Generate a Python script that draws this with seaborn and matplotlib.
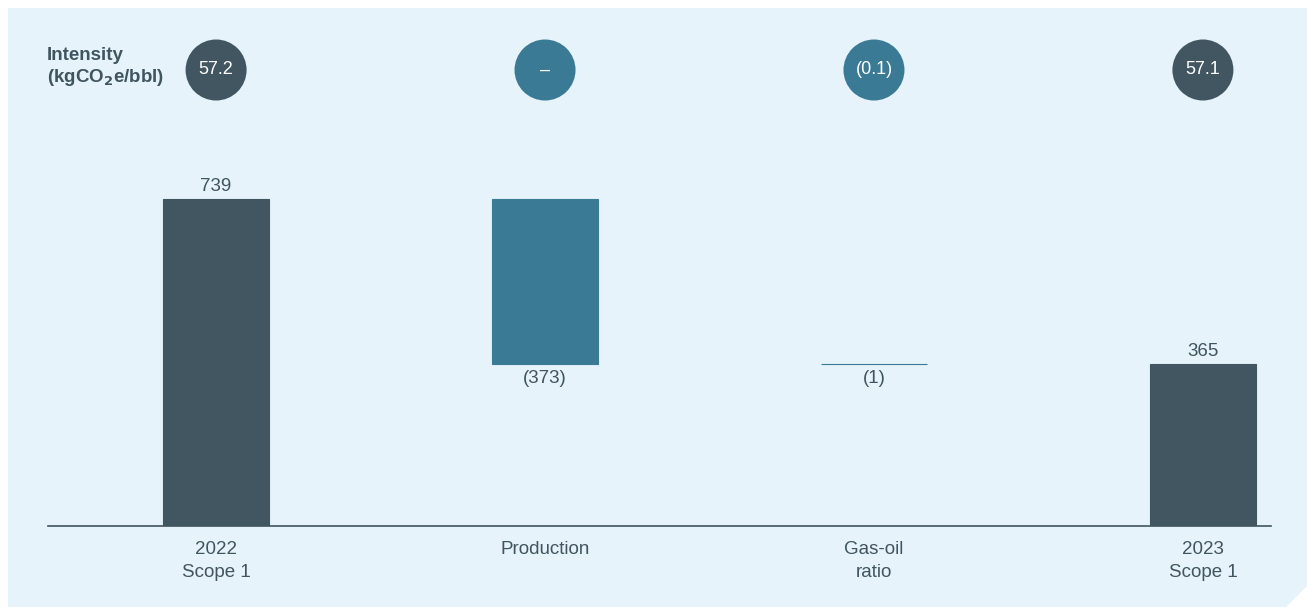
import seaborn as sns
import matplotlib.pyplot as plt
import numpy as np
import pandas as pd
from matplotlib.patches import Polygon
from matplotlib.transforms import blended_transform_factory

# Chart data
categories = ['2022\nScope 1', 'Production', 'Gas-oil\nratio', '2023\nScope 1']
start_value = 739
deltas = [-373, -1]
end_value = 365
value_labels = ['739', '(373)', '(1)', '365']
intensity_labels = ['57.2', '–', '(0.1)', '57.1']

# Colours
bg = '#e6f3fb'
dark = '#425662'
teal = '#3b7a95'
text_col = '#41555f'

# Build waterfall table
tops, bottoms = [start_value], [0]
level = start_value
for d in deltas:
    new = level + d
    bottoms.append(min(level, new))
    tops.append(max(level, new))
    level = new
tops.append(end_value)
bottoms.append(0)
df = pd.DataFrame({'category': categories, 'bottom': bottoms, 'top': tops,
                   'label': value_labels, 'intensity': intensity_labels})
df['height'] = df['top'] - df['bottom']
df['kind'] = ['total', 'delta', 'delta', 'total']

sns.set_theme(style='white')
plt.rcParams['font.family'] = ['Liberation Sans', 'DejaVu Sans']

W, H = 1307, 607
fig = plt.figure(figsize=(W / 100, H / 100), dpi=100)
fig.patch.set_facecolor('white')

# light blue panel with cut corner
panel = Polygon([(8 / W, 1 - 8 / H), (1, 1 - 8 / H), (1, 1 - 586 / H),
                 (1286 / W, 0), (8 / W, 0)], closed=True,
                transform=fig.transFigure, facecolor=bg, edgecolor='none', zorder=-10)
fig.patches.append(panel)

ax = fig.add_axes([48 / W, 1 - 526 / H, (1271 - 48) / W, (526 - 90) / H])
ax.set_facecolor('none')

x = np.arange(len(df))
colors = [dark if k == 'total' else teal for k in df['kind']]
ax.bar(x, df['height'], bottom=df['bottom'], width=0.322, color=colors,
       edgecolor=colors, linewidth=0.8, zorder=2)

ax.set_xlim(-0.511, 3.207)
ax.set_ylim(0, 739 * (526 - 90) / 327)

fs = 13.5
# value labels
for i, row in df.iterrows():
    if row['kind'] == 'total':
        ax.annotate(row['label'], (i, row['top']), xytext=(0, 3),
                    textcoords='offset points', ha='center', va='bottom',
                    fontsize=fs, color=text_col)
    else:
        ax.annotate(row['label'], (i, row['bottom']), xytext=(0, -4),
                    textcoords='offset points', ha='center', va='top',
                    fontsize=fs, color=text_col)

# intensity circles
trans = blended_transform_factory(ax.transData, fig.transFigure)
circle_y = 1 - 70 / H
ax.scatter(x, [circle_y] * len(x), s=1930, c=colors, transform=trans,
           clip_on=False, zorder=3, linewidths=0)
for i, lab in enumerate(df['intensity']):
    ax.text(i, circle_y, lab, transform=trans, ha='center', va='center',
            fontsize=13, color='white', zorder=4)

fig.text(47 / W, 1 - 55 / H, 'Intensity', fontsize=fs, fontweight='bold',
         color=text_col, va='center', ha='left')
fig.text(47 / W, 1 - 78 / H, r'(kgCO$_\mathbf{2}$e/bbl)', fontsize=fs,
         fontweight='bold', color=text_col, va='center', ha='left')

# axes styling
ax.set_xticks(x)
ax.set_xticklabels(df['category'], fontsize=fs, color=text_col, linespacing=1.45)
ax.tick_params(axis='x', length=0, pad=11)
ax.set_yticks([])
for s in ['top', 'right', 'left']:
    ax.spines[s].set_visible(False)
ax.spines['bottom'].set_color(text_col)
ax.spines['bottom'].set_linewidth(1.2)
ax.set_xlabel('')
ax.set_ylabel('')

fig.savefig('out.png', dpi=100, facecolor='white')
